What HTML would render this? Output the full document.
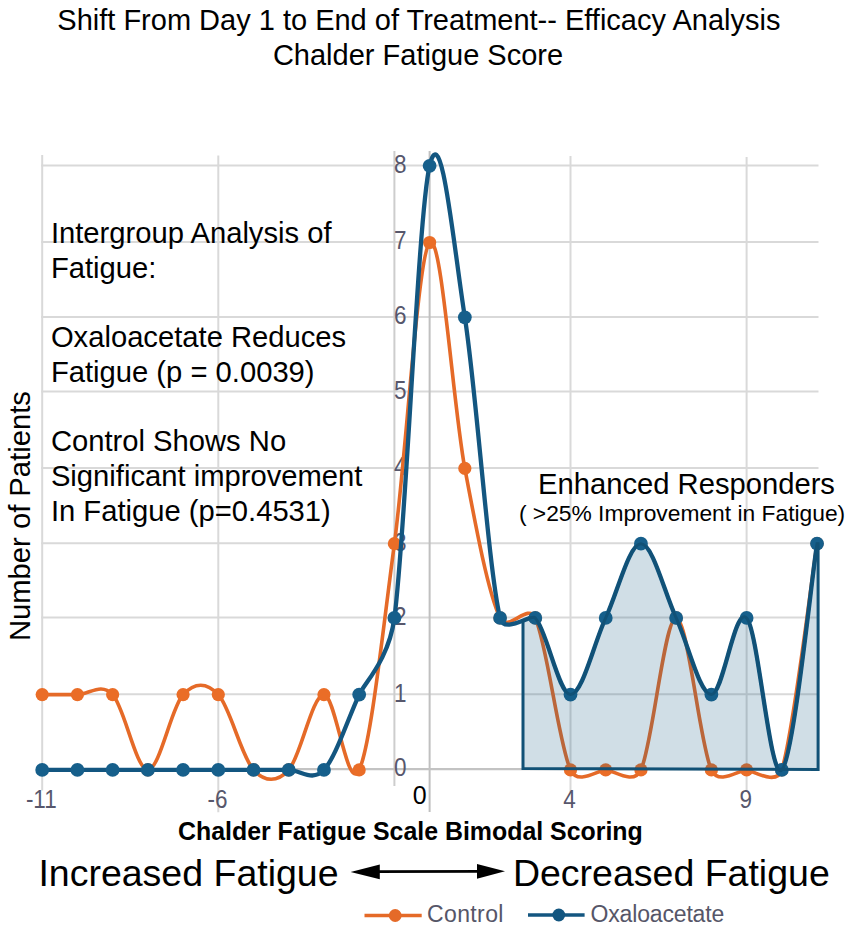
<!DOCTYPE html>
<html><head><meta charset="utf-8"><style>
html,body{margin:0;padding:0;background:#fff;}
body{width:851px;height:934px;overflow:hidden;}
svg{display:block;}
text{font-family:"Liberation Sans",sans-serif;}
</style></head><body>
<svg width="851" height="934" viewBox="0 0 851 934">
<rect width="851" height="934" fill="#fff"/>
<text x="57.3" y="30.2" font-size="29" fill="#000">Shift From Day 1 to End of Treatment-- Efficacy Analysis</text>
<text x="418" y="64.6" font-size="29" fill="#000" text-anchor="middle">Chalder Fatigue Score</text>
<g stroke="#d9d9d9" stroke-width="2"><line x1="41.2" y1="694.2" x2="818.5" y2="694.2"/><line x1="41.2" y1="617.5" x2="818.5" y2="617.5"/><line x1="41.2" y1="543.3" x2="818.5" y2="543.3"/><line x1="41.2" y1="468.0" x2="818.5" y2="468.0"/><line x1="41.2" y1="391.5" x2="818.5" y2="391.5"/><line x1="41.2" y1="316.9" x2="818.5" y2="316.9"/><line x1="41.2" y1="242.1" x2="818.5" y2="242.1"/><line x1="41.2" y1="165.4" x2="818.5" y2="165.4"/><line x1="42.2" y1="155.0" x2="42.2" y2="790.5"/><line x1="218.3" y1="155.5" x2="218.3" y2="812.3"/><line x1="570.5" y1="156.0" x2="570.5" y2="792.0"/><line x1="746.6" y1="157.0" x2="746.6" y2="790.5"/></g>
<line x1="394.4" y1="151" x2="394.4" y2="786" stroke="#cdcdcd" stroke-width="2"/>
<line x1="429.61999999999995" y1="151" x2="429.61999999999995" y2="812" stroke="#c0c0c0" stroke-width="2"/>
<line x1="41.2" y1="769.1" x2="818.5" y2="769.1" stroke="#c3c3c3" stroke-width="2.2"/>
<g font-size="22.5" fill="#57576c"><text transform="translate(394,776.45) scale(1,1.11)">0</text><text transform="translate(394,701.55) scale(1,1.11)">1</text><text transform="translate(394,624.85) scale(1,1.11)">2</text><text transform="translate(394,550.65) scale(1,1.11)">3</text><text transform="translate(394,475.35) scale(1,1.11)">4</text><text transform="translate(394,398.85) scale(1,1.11)">5</text><text transform="translate(394,324.25) scale(1,1.11)">6</text><text transform="translate(394,249.45) scale(1,1.11)">7</text><text transform="translate(394,172.75) scale(1,1.11)">8</text><text transform="translate(41.30,807.7) scale(1,1.11)" text-anchor="middle">-11</text><text transform="translate(217.40,807.7) scale(1,1.11)" text-anchor="middle">-6</text><text transform="translate(569.60,807.7) scale(1,1.11)" text-anchor="middle">4</text><text transform="translate(745.70,807.7) scale(1,1.11)" text-anchor="middle">9</text></g>
<text x="419.6" y="803.8" font-size="25" fill="#000" text-anchor="middle">0</text>
<g font-size="29.2" fill="#000">
<text x="50.9" y="243.2">Intergroup Analysis of</text>
<text x="50.9" y="278">Fatigue:</text>
<text x="50.9" y="347">Oxaloacetate Reduces</text>
<text x="50.9" y="382">Fatigue (p = 0.0039)</text>
<text x="50.9" y="451.3">Control Shows No</text>
<text x="50.9" y="486">Significant improvement</text>
<text x="50.9" y="520.7">In Fatigue (p=0.4531)</text>
</g>
<text x="538" y="493.5" font-size="29.2" fill="#000">Enhanced Responders</text>
<text x="518.9" y="520.8" font-size="22.8" fill="#000">( &gt;25% Improvement in Fatigue)</text>
<text transform="translate(30,641) rotate(-90)" font-size="29.2" fill="#000">Number of Patients</text>
<path d="M42.20,694.60 C48.07,694.60 65.68,694.60 77.42,694.60 C89.16,694.60 100.90,682.05 112.64,694.60 C124.38,707.15 136.12,769.90 147.86,769.90 C159.60,769.90 171.34,707.15 183.08,694.60 C194.82,682.05 206.56,682.05 218.30,694.60 C230.04,707.15 241.78,757.35 253.52,769.90 C265.26,782.45 277.00,782.45 288.74,769.90 C300.48,757.35 312.22,694.60 323.96,694.60 C335.70,694.60 347.44,795.05 359.18,769.90 C370.92,744.75 382.66,631.60 394.40,543.70 C406.14,455.80 417.88,255.05 429.62,242.50 C441.36,229.95 453.10,405.83 464.84,468.40 C476.58,530.97 488.32,592.98 500.06,617.90 C507.57,633.83 527.88,601.92 535.28,617.90 C547.02,643.23 558.76,744.57 570.50,769.90 C577.90,785.88 598.32,769.90 605.72,769.90 C613.12,769.90 633.54,785.88 640.94,769.90 C652.68,744.57 664.42,617.90 676.16,617.90 C687.90,617.90 699.64,744.57 711.38,769.90 C718.78,785.88 739.20,769.90 746.60,769.90 C751.84,769.90 776.58,786.71 781.82,769.90 C793.56,732.20 811.17,581.40 817.04,543.70" fill="none" stroke="#e56a28" stroke-width="3.6"/>
<g fill="#ea6d27"><circle cx="42.20" cy="694.60" r="6.6"/><circle cx="77.42" cy="694.60" r="6.6"/><circle cx="112.64" cy="694.60" r="6.6"/><circle cx="147.86" cy="769.90" r="6.6"/><circle cx="183.08" cy="694.60" r="6.6"/><circle cx="218.30" cy="694.60" r="6.6"/><circle cx="253.52" cy="769.90" r="6.6"/><circle cx="288.74" cy="769.90" r="6.6"/><circle cx="323.96" cy="694.60" r="6.6"/><circle cx="359.18" cy="769.90" r="6.6"/><circle cx="394.40" cy="543.70" r="6.6"/><circle cx="429.62" cy="242.50" r="6.6"/><circle cx="464.84" cy="468.40" r="6.6"/><circle cx="500.06" cy="617.90" r="6.6"/><circle cx="535.28" cy="617.90" r="6.6"/><circle cx="570.50" cy="769.90" r="6.6"/><circle cx="605.72" cy="769.90" r="6.6"/><circle cx="640.94" cy="769.90" r="6.6"/><circle cx="676.16" cy="617.90" r="6.6"/><circle cx="711.38" cy="769.90" r="6.6"/><circle cx="746.60" cy="769.90" r="6.6"/><circle cx="781.82" cy="769.90" r="6.6"/><circle cx="817.04" cy="543.70" r="6.6"/></g>
<path d="M42.20,769.90 C48.07,769.90 65.68,769.90 77.42,769.90 C89.16,769.90 100.90,769.90 112.64,769.90 C124.38,769.90 136.12,769.90 147.86,769.90 C159.60,769.90 171.34,769.90 183.08,769.90 C194.82,769.90 206.56,769.90 218.30,769.90 C230.04,769.90 241.78,769.90 253.52,769.90 C265.26,769.90 277.00,769.90 288.74,769.90 C300.48,769.90 312.22,782.45 323.96,769.90 C335.70,757.35 347.44,719.93 359.18,694.60 C364.75,682.58 388.83,659.73 394.40,617.90 C406.14,529.77 417.88,215.90 429.62,165.80 C441.36,115.70 453.10,241.95 464.84,317.30 C476.58,392.65 488.32,567.80 500.06,617.90 C504.08,635.05 531.26,613.53 535.28,617.90 C547.02,630.68 558.76,694.60 570.50,694.60 C582.24,694.60 593.98,643.05 605.72,617.90 C617.46,592.75 629.20,543.70 640.94,543.70 C652.68,543.70 664.42,592.75 676.16,617.90 C687.90,643.05 699.64,694.60 711.38,694.60 C723.12,694.60 734.86,605.35 746.60,617.90 C758.34,630.45 770.08,782.27 781.82,769.90 C793.56,757.53 811.17,581.40 817.04,543.70" fill="none" stroke="#135680" stroke-width="4.3"/>
<g fill="#165f8b"><circle cx="42.20" cy="769.90" r="6.9"/><circle cx="77.42" cy="769.90" r="6.9"/><circle cx="112.64" cy="769.90" r="6.9"/><circle cx="147.86" cy="769.90" r="6.9"/><circle cx="183.08" cy="769.90" r="6.9"/><circle cx="218.30" cy="769.90" r="6.9"/><circle cx="253.52" cy="769.90" r="6.9"/><circle cx="288.74" cy="769.90" r="6.9"/><circle cx="323.96" cy="769.90" r="6.9"/><circle cx="359.18" cy="694.60" r="6.9"/><circle cx="394.40" cy="617.90" r="6.9"/><circle cx="429.62" cy="165.80" r="6.9"/><circle cx="464.84" cy="317.30" r="6.9"/><circle cx="500.06" cy="617.90" r="6.9"/><circle cx="535.28" cy="617.90" r="6.9"/><circle cx="570.50" cy="694.60" r="6.9"/><circle cx="605.72" cy="617.90" r="6.9"/><circle cx="640.94" cy="543.70" r="6.9"/><circle cx="676.16" cy="617.90" r="6.9"/><circle cx="711.38" cy="694.60" r="6.9"/><circle cx="746.60" cy="617.90" r="6.9"/><circle cx="781.82" cy="769.90" r="6.9"/><circle cx="817.04" cy="543.70" r="6.9"/></g>
<path d="M523.00,768.50 L523.00,620.67 C528.76,618.37 533.73,616.22 535.28,617.90 C547.02,630.68 558.76,694.60 570.50,694.60 C582.24,694.60 593.98,643.05 605.72,617.90 C617.46,592.75 629.20,543.70 640.94,543.70 C652.68,543.70 664.42,592.75 676.16,617.90 C687.90,643.05 699.64,694.60 711.38,694.60 C723.12,694.60 734.86,605.35 746.60,617.90 C758.34,630.45 770.08,782.27 781.82,769.90 C793.56,757.53 811.17,581.40 817.04,543.70 L818.10,543.70 L818.10,769.50 Z" fill="rgba(22,90,130,0.2)" stroke="#115176" stroke-width="3"/>
<text x="178" y="840.2" font-size="24.9" font-weight="bold" fill="#000">Chalder Fatigue Scale Bimodal Scoring</text>
<text x="38.4" y="885.7" font-size="37.5" fill="#000">Increased Fatigue</text>
<line x1="376" y1="871.7" x2="481" y2="871.4" stroke="#000" stroke-width="2.8"/>
<path d="M350.6,871.9 L379.8,864.5 L379.8,879.3 Z M505,871.3 L477,863.9 L477,878.7 Z" fill="#000"/>
<text x="512.9" y="885.7" font-size="37.5" fill="#000">Decreased Fatigue</text>
<line x1="364.5" y1="915.5" x2="421.7" y2="915.5" stroke="#e56a28" stroke-width="3.7"/>
<line x1="528" y1="915" x2="584.6" y2="915" stroke="#135680" stroke-width="3.7"/>
<circle cx="395.2" cy="915.5" r="6.4" fill="#e56a28"/>
<circle cx="558.8" cy="915" r="6.4" fill="#135680"/>
<g font-size="23" fill="#565668"><text x="427" y="922.3" letter-spacing="0.38">Control</text><text x="590.5" y="922" letter-spacing="-0.16">Oxaloacetate</text></g>
</svg>
</body></html>
